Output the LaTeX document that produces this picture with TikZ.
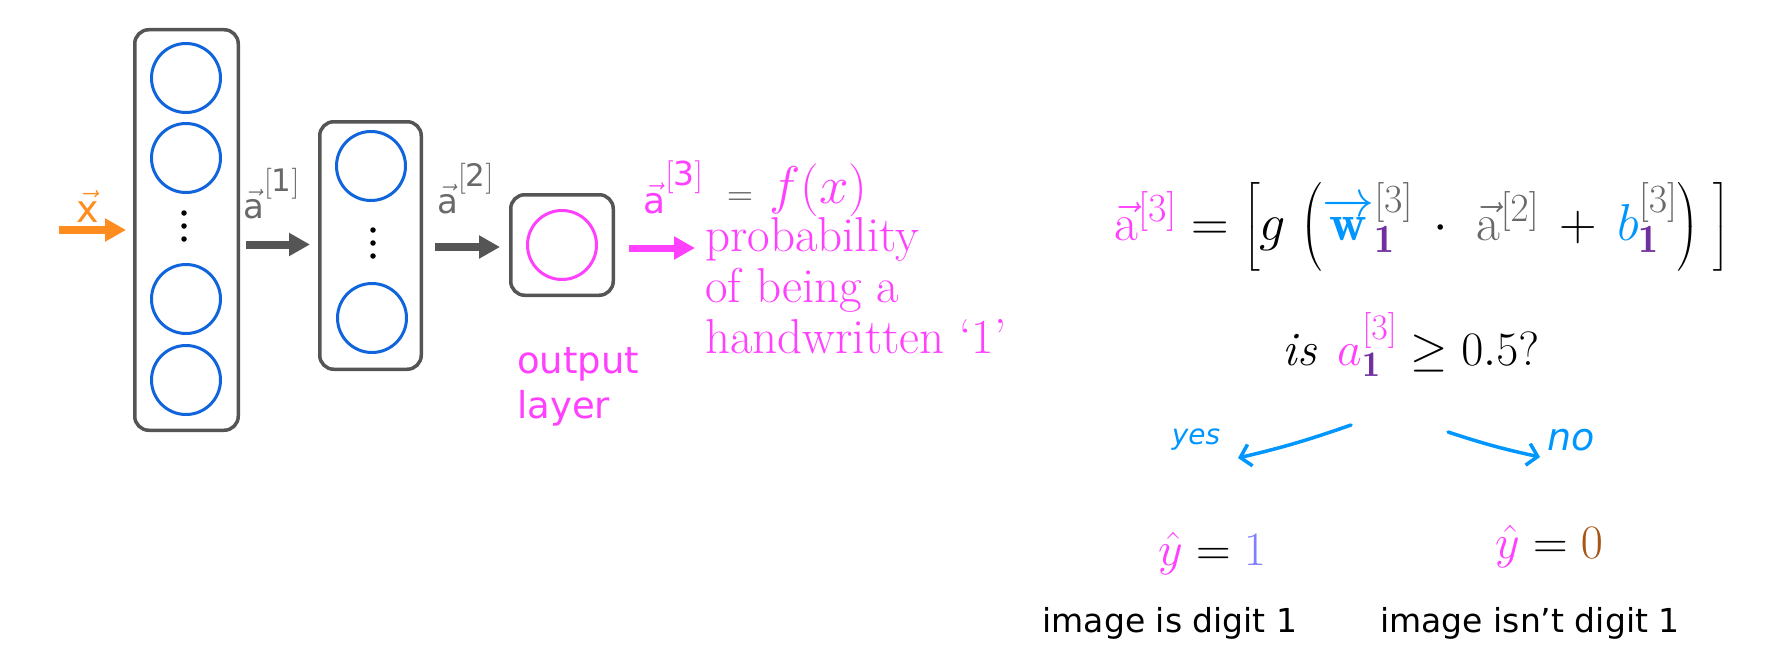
\RequirePackage{fix-cm}
\documentclass[tikz,border=0pt]{standalone}
\usepackage{amsmath}
\usepackage{fontspec}
\setsansfont{DejaVu Sans}
\usetikzlibrary{arrows.meta,calc}
\DeclareMathSizes{48}{48}{36}{28}
\DeclareMathSizes{52}{52}{40}{30}
\DeclareMathSizes{34}{34}{31}{24}
\DeclareMathSizes{36}{36}{33}{26}
\definecolor{pinkc}{RGB}{255,64,255}
\definecolor{circblue}{RGB}{16,100,220}
\definecolor{orangec}{RGB}{255,140,30}
\definecolor{boxgray}{RGB}{85,85,85}
\definecolor{labgray}{RGB}{105,105,105}
\definecolor{skyc}{RGB}{0,150,255}
\definecolor{purplec}{RGB}{112,48,160}
\definecolor{lilac}{RGB}{128,128,255}
\definecolor{brownc}{RGB}{165,85,20}
\newcommand{\vecsf}[2]{$\vec{\mathsf{#1}}^{\mathsf{#2}}$}
\begin{document}
\begin{tikzpicture}[x=1pt,y=-1pt,
  layerbox/.style={draw=boxgray, line width=3.5pt, rounded corners=14pt, inner sep=0pt},
  neuron/.style={circle, draw=circblue, line width=3pt, minimum size=69pt, inner sep=0pt},
  outneuron/.style={neuron, draw=pinkc},
  dotc/.style={circle, fill=black, minimum size=5.5pt, inner sep=0pt},
  thickarrow/.style={line width=8pt, -{Triangle[length=21pt,width=22pt]}},
  handarrow/.style={draw=skyc, line width=3.5pt, line cap=round, line join=round, -{Straight Barb[length=10pt,width=22pt,line width=3.5pt]}},
  txt/.style={inner sep=0pt}
]
\useasboundingbox (0,0) rectangle (1780,669);

% layer 1
\node[layerbox, minimum width=103.5pt, minimum height=400.5pt] (L1) at (186.5,230) {};
\node[neuron] (n11) at (186,78) {};
\node[neuron] (n12) at (186,158) {};
\node[dotc] (d11) at (184,213) {};
\node[dotc] (d12) at (184,226) {};
\node[dotc] (d13) at (184,239) {};
\node[neuron] (n13) at (186,299) {};
\node[neuron] (n14) at (186,380) {};

% layer 2
\node[layerbox, minimum width=101.5pt, minimum height=247.5pt] (L2) at (370.5,245.5) {};
\node[neuron] (n21) at (371,166) {};
\node[dotc] (d21) at (373,230) {};
\node[dotc] (d22) at (373,243) {};
\node[dotc] (d23) at (373,256) {};
\node[neuron] (n22) at (372,318) {};

% layer 3
\node[layerbox, minimum width=102.5pt, minimum height=100.5pt] (L3) at (562,245) {};
\node[outneuron] (o1) at (562,245) {};

% arrows
\coordinate (xin) at (59,230);
\draw[thickarrow, orangec] (xin) -- ($(L1.west)+(-7,0)$);
\draw[thickarrow, boxgray] ($(L1.east |- L2.west)+(6,-1)$) -- ($(L2.west)+(-8,-1)$);
\draw[thickarrow, boxgray] ($(L2.east |- L3.west)+(12,2)$) -- ($(L3.west)+(-9,2)$);
\coordinate (pend) at (695,248);
\draw[thickarrow, pinkc, line width=7pt] ($(L3.east |- pend)+(14,0)$) -- (pend);

% labels
\node[txt, anchor=base] (xlab) at (88,222) {\fontsize{38}{44}\selectfont\textcolor{orangec}{$\vec{\mathsf{x}}$}};
\node[txt, anchor=base west] (a1lab) at (243,218) {\fontsize{34}{40}\selectfont\textcolor{labgray}{\vecsf{a}{[1]}}};
\node[txt, anchor=base west] (a2lab) at (437,213) {\fontsize{34}{40}\selectfont\textcolor{labgray}{\vecsf{a}{[2]}}};
\node[txt, anchor=base west] (a3lab) at (643,213) {\fontsize{36}{40}\selectfont\textcolor{pinkc}{\vecsf{a}{[3]}}\hspace{24pt}\raisebox{8pt}{\textcolor{boxgray}{$=$}}\hspace{16pt}\raisebox{10pt}{\textcolor{pinkc}{\fontsize{53}{58}\selectfont$f(x)$}}};
\node[txt, anchor=base west, align=left, text=pinkc, font=\fontsize{49}{51}\selectfont] (prob) at (705,353) {probability\\of being a\\handwritten `1'};
\node[txt, anchor=base west, align=left, text=pinkc, font=\sffamily\fontsize{37}{45}\selectfont] (outlab) at (517,418) {output\\layer};

% right side
\node[txt, anchor=base west] (eq) at (1114,240) {\fontsize{52}{55}\selectfont
 $\textcolor{pinkc}{\vec{\mathrm{a}}^{[3]}} = \Bigl[ g\;\Bigl( \textcolor{skyc}{\overrightarrow{\mathbf{w}}}_{\textcolor{purplec}{\mathbf{1}}}^{\textcolor{labgray}{[3]}} \,\cdot \,\,\textcolor{labgray}{\vec{\mathrm{a}}^{[2]}} \,+\, \textcolor{skyc}{b}_{\textcolor{purplec}{\mathbf{1}}}^{\textcolor{labgray}{[3]}} \Bigr)\hspace{14pt} \Bigr]$};
\node[txt, anchor=base] (isq) at (1411,365) {\fontsize{48}{55}\selectfont
 $\mathit{is}\;\, \textcolor{pinkc}{a}_{\textcolor{purplec}{\mathbf{1}}}^{\textcolor{pinkc}{[3]}} \geq 0.5?$};

\coordinate (yesS) at (1351,425);
\coordinate (yesE) at (1238,458);
\draw[handarrow] (yesS) to[bend left=3] (yesE);
\node[txt, text=skyc, font=\sffamily\itshape\fontsize{28}{30}\selectfont] (yes) at (1196,440) {yes};
\coordinate (noS) at (1448,432);
\coordinate (noE) at (1540,457);
\draw[handarrow] (noS) to[bend right=3] (noE);
\node[txt, text=skyc, font=\sffamily\itshape\fontsize{38}{40}\selectfont] (no) at (1571,440) {no};

\node[txt, anchor=base] (yh1) at (1212,565) {\fontsize{48}{55}\selectfont$\textcolor{pinkc}{\hat{y}} = \textcolor{lilac}{1}$};
\node[txt, anchor=base] (yh0) at (1549,558) {\fontsize{48}{55}\selectfont$\textcolor{pinkc}{\hat{y}} = \textcolor{brownc}{0}$};
\node[txt, anchor=base, font=\sffamily\fontsize{33}{40}\selectfont] (img1) at (1170,632) {image is digit 1};
\node[txt, anchor=base, font=\sffamily\fontsize{33}{40}\selectfont] (img0) at (1530,632) {image isn't digit 1};
\end{tikzpicture}
\end{document}
